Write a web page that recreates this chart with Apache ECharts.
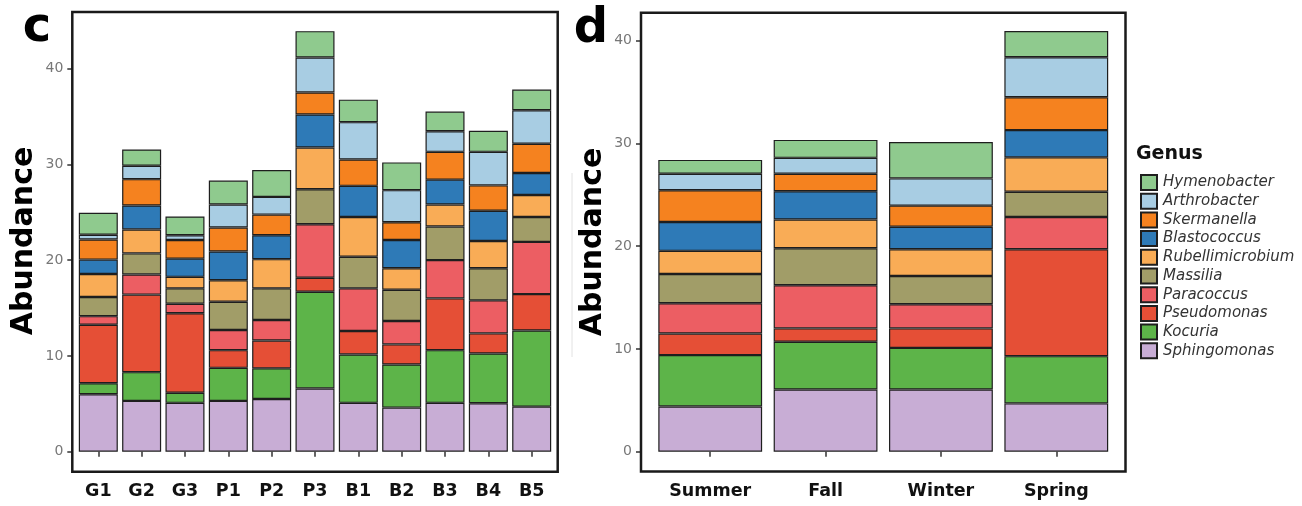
<!DOCTYPE html>
<html>
<head>
<meta charset="utf-8">
<script src="https://cdn.jsdelivr.net/npm/echarts@6/dist/echarts.min.js"></script>
<style>
html,body{margin:0;padding:0;background:#fff;}
#chart{width:1302px;height:506px;}
</style>
</head>
<body>
<div id="chart"></div>
<script>
// ---------- DATA ----------
const categoriesC = ['G1','G2','G3','P1','P2','P3','B1','B2','B3','B4','B5'];
const categoriesD = ['Summer','Fall','Winter','Spring'];
const yTicks = [0, 10, 20, 30, 40];
// stacking order bottom -> top
const genera = ['Sphingomonas','Kocuria','Pseudomonas','Paracoccus','Massilia','Rubellimicrobium','Blastococcus','Skermanella','Arthrobacter','Hymenobacter'];
// legend order (top -> bottom)
const legendOrder = ['Hymenobacter','Arthrobacter','Skermanella','Blastococcus','Rubellimicrobium','Massilia','Paracoccus','Pseudomonas','Kocuria','Sphingomonas'];

// panel c values (G1..B5)
const cSphingomonas     = [6.0, 5.3, 5.1, 5.3, 5.5, 6.6, 5.1, 4.6, 5.1, 5.05, 4.7];
const cKocuria          = [1.15, 3.0, 1.05, 3.45, 3.2, 10.1, 5.05, 4.5, 5.5, 5.2, 7.95];
const cPseudomonas      = [6.1, 8.1, 8.3, 1.85, 2.9, 1.45, 2.45, 2.1, 5.4, 2.1, 3.8];
const cParacoccus       = [0.9, 2.1, 1.0, 2.1, 2.15, 5.6, 4.45, 2.45, 4.0, 3.45, 5.45];
const cMassilia         = [2.0, 2.2, 1.6, 2.95, 3.3, 3.65, 3.3, 3.25, 3.5, 3.35, 2.6];
const cRubellimicrobium = [2.4, 2.5, 1.2, 2.25, 3.05, 4.35, 4.15, 2.25, 2.3, 2.85, 2.3];
const cBlastococcus     = [1.5, 2.5, 1.9, 3.0, 2.5, 3.45, 3.25, 2.95, 2.6, 3.15, 2.3];
const cSkermanella      = [2.1, 2.75, 1.95, 2.5, 2.15, 2.3, 2.75, 1.85, 2.9, 2.65, 3.05];
const cArthrobacter     = [0.5, 1.4, 0.5, 2.4, 1.85, 3.65, 3.9, 3.35, 2.15, 3.5, 3.5];
const cHymenobacter     = [2.3, 1.7, 1.95, 2.5, 2.8, 2.75, 2.35, 2.9, 2.05, 2.2, 2.15];

// panel d values (Summer, Fall, Winter, Spring)
const dSphingomonas     = [4.4, 6.05, 6.05, 4.7];
const dKocuria          = [5.0, 4.65, 4.05, 4.6];
const dPseudomonas      = [2.1, 1.3, 1.9, 10.4];
const dParacoccus       = [2.95, 4.2, 2.35, 3.15];
const dMassilia         = [2.85, 3.6, 2.75, 2.45];
const dRubellimicrobium = [2.25, 2.8, 2.6, 3.35];
const dBlastococcus     = [2.8, 2.75, 2.2, 2.65];
const dSkermanella      = [3.1, 1.7, 2.05, 3.2];
const dArthrobacter     = [1.6, 1.55, 2.65, 3.9];
const dHymenobacter     = [1.35, 1.75, 3.55, 2.55];

// ---------- STYLE ----------
const colors = {
  Hymenobacter: '#8fca8e',
  Arthrobacter: '#a8cde3',
  Skermanella: '#f5821f',
  Blastococcus: '#2e7ab7',
  Rubellimicrobium: '#f9ac56',
  Massilia: '#a19d68',
  Paracoccus: '#ec5e63',
  Pseudomonas: '#e54f36',
  Kocuria: '#5db449',
  Sphingomonas: '#c8add5'
};
const panelC = {Sphingomonas:cSphingomonas,Kocuria:cKocuria,Pseudomonas:cPseudomonas,Paracoccus:cParacoccus,Massilia:cMassilia,Rubellimicrobium:cRubellimicrobium,Blastococcus:cBlastococcus,Skermanella:cSkermanella,Arthrobacter:cArthrobacter,Hymenobacter:cHymenobacter};
const panelD = {Sphingomonas:dSphingomonas,Kocuria:dKocuria,Pseudomonas:dPseudomonas,Paracoccus:dParacoccus,Massilia:dMassilia,Rubellimicrobium:dRubellimicrobium,Blastococcus:dBlastococcus,Skermanella:dSkermanella,Arthrobacter:dArthrobacter,Hymenobacter:dHymenobacter};

const FONT = 'DejaVu Sans';
// panel boxes (border), ggplot-like 0.6 band expansion on discrete axis
const boxC = {x:72.3, y:12, w:485.4, h:459.7};
const boxD = {x:641, y:12.7, w:484.5, h:458.8};
const bandC = boxC.w / (categoriesC.length + 0.2);
const bandD = boxD.w / (categoriesD.length + 0.2);

function xAxisCfg(idx, data){
  return {
    gridIndex: idx, type: 'category', data: data, boundaryGap: true,
    axisLine: {show:false},
    axisTick: {show:true, alignWithLabel:true, length:5, lineStyle:{color:'#333', width:1.5}},
    axisLabel: {margin:11, color:'#111', fontWeight:'bold', fontSize:17.5, fontFamily:FONT}
  };
}
function yAxisCfg(idx, min, max, off){
  return {
    gridIndex: idx, type: 'value', min: min, max: max, offset: off,
    splitLine: {show:false},
    axisLine: {show:false},
    axisTick: {show:true, length:5, customValues: yTicks, lineStyle:{color:'#333', width:1.5}},
    axisLabel: {show:true, customValues: yTicks, margin:9, color:'#777', fontSize:14, fontFamily:FONT}
  };
}

const series = [];
genera.forEach(g => {
  [['c',0,panelC],['d',1,panelD]].forEach(([p, idx, src]) => {
    series.push({
      name: g, type: 'bar', stack: 'stack' + p,
      xAxisIndex: idx, yAxisIndex: idx,
      barWidth: '90%',
      data: src[g],
      itemStyle: {color: colors[g], borderColor:'#1e1e1e', borderWidth:1.2},
      emphasis: {disabled:true}
    });
  });
});

const option = {
  backgroundColor: '#ffffff',
  animation: false,
  grid: [
    {left: boxC.x + 0.1*bandC, top: boxC.y, width: boxC.w - 0.2*bandC, height: boxC.h},
    {left: boxD.x + 0.1*bandD, top: boxD.y, width: boxD.w - 0.2*bandD, height: boxD.h}
  ],
  xAxis: [xAxisCfg(0, categoriesC), xAxisCfg(1, categoriesD)],
  yAxis: [yAxisCfg(0, -2.09, 45.9, 0.1*bandC), yAxisCfg(1, -1.93, 42.73, 0.1*bandD)],
  legend: {
    orient: 'vertical', left: 1135, top: 169,
    data: legendOrder,
    icon: 'rect', itemWidth: 16, itemHeight: 15, itemGap: 1.7,
    selectedMode: false,
    textStyle: {fontFamily: FONT, fontStyle: 'italic', fontSize: 15, lineHeight: 15, color: '#333', padding:[0,0,0,1]}
  },
  series: series,
  graphic: [
    {type:'rect', silent:true, shape:{x:boxC.x, y:boxC.y, width:boxC.w, height:boxC.h}, style:{fill:'none', stroke:'#1a1a1a', lineWidth:2.5}, z:100},
    {type:'rect', silent:true, shape:{x:boxD.x, y:boxD.y, width:boxD.w, height:boxD.h}, style:{fill:'none', stroke:'#1a1a1a', lineWidth:2.5}, z:100},
    {type:'line', silent:true, shape:{x1:572, y1:173, x2:572, y2:357}, style:{stroke:'#e2e2e2', lineWidth:1}},
    {type:'text', x:37, y:29, style:{text:'c', font:'bold 48px "DejaVu Sans"', fill:'#000', textAlign:'center', textVerticalAlign:'middle'}},
    {type:'text', x:591, y:30, style:{text:'d', font:'bold 48px "DejaVu Sans"', fill:'#000', textAlign:'center', textVerticalAlign:'middle'}},
    {type:'text', x:24, y:241, rotation:Math.PI/2, style:{text:'Abundance', font:'bold 30px "DejaVu Sans"', fill:'#000', textAlign:'center', textVerticalAlign:'middle'}},
    {type:'text', x:593.5, y:242, rotation:Math.PI/2, style:{text:'Abundance', font:'bold 30px "DejaVu Sans"', fill:'#000', textAlign:'center', textVerticalAlign:'middle'}},
    {type:'text', x:1136, y:154, style:{text:'Genus', font:'bold 19px "DejaVu Sans"', fill:'#111', textAlign:'left', textVerticalAlign:'middle'}}
  ]
};
const chart = echarts.init(document.getElementById('chart'), null, {renderer:'canvas'});
chart.setOption(option);
</script>
</body>
</html>
